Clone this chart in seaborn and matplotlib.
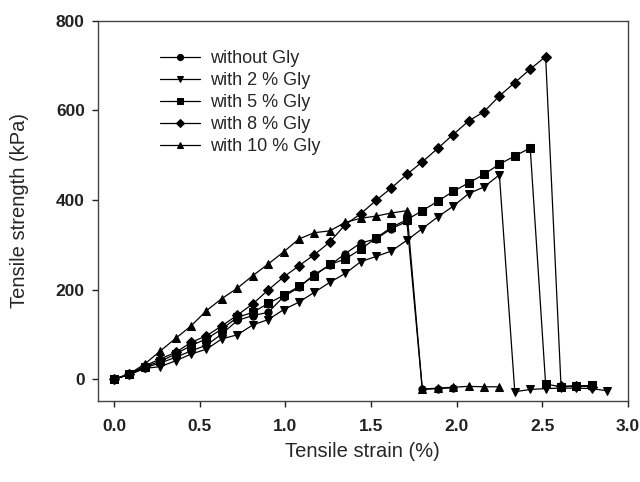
import pandas as pd
import numpy as np
import matplotlib
matplotlib.use('Agg')
import matplotlib.pyplot as plt
import seaborn as sns

# strain steps (%)
strain = [0.00, 0.09, 0.18, 0.27, 0.36, 0.45, 0.54, 0.63, 0.72, 0.81,
          0.90, 0.99, 1.08, 1.17, 1.26, 1.35, 1.44, 1.53, 1.62, 1.71,
          1.80, 1.89, 1.98, 2.07, 2.16, 2.25, 2.34, 2.43, 2.52, 2.61,
          2.70, 2.79, 2.88]

# tensile strength (kPa)
gly_0 = [0, 11, 26, 36, 49, 63, 76, 101, 131, 142,
         149, 184, 205, 234, 254, 280, 304, 313, 336, 352,
         -23, -21, -19]
gly_2 = [0, 10, 24, 28, 41, 56, 67, 90, 99, 121,
         133, 155, 172, 194, 216, 236, 262, 274, 286, 310,
         336, 362, 386, 414, 429, 456, -28, -23, -21, -20,
         -20, -21, -26]
gly_5 = [0, 11, 28, 40, 56, 75, 90, 112, 138, 149,
         169, 187, 207, 231, 256, 268, 290, 315, 339, 356,
         376, 397, 419, 438, 457, 480, 498, 516, -11, -17,
         -15, -14]
gly_8 = [0, 11, 30, 45, 60, 82, 97, 119, 143, 168,
         199, 228, 253, 278, 306, 345, 369, 399, 427, 457,
         485, 515, 546, 576, 597, 632, 662, 692, 720, -16,
         -15, -17]
gly_10 = [0, 12, 34, 63, 91, 119, 153, 180, 203, 231,
          257, 284, 313, 327, 331, 350, 359, 364, 371, 376,
          -22, -20, -18, -16, -17, -17]

labels = ['without Gly', 'with 2 % Gly', 'with 5 % Gly',
          'with 8 % Gly', 'with 10 % Gly']
series = [gly_0, gly_2, gly_5, gly_8, gly_10]

rows = []
for lab, vals in zip(labels, series):
    for x, y in zip(strain, vals):
        rows.append({'strain': x, 'strength': y, 'sample': lab})
df = pd.DataFrame(rows)

sns.set_style('ticks')
plt.rcParams['font.family'] = ['Liberation Sans', 'DejaVu Sans']

fig = plt.figure(figsize=(6.4, 4.82), dpi=100)
ax = fig.add_axes([0.1527, 0.1687, 0.8283, 0.7883])

marker_map = {'without Gly': 'o', 'with 2 % Gly': 'v', 'with 5 % Gly': 's',
              'with 8 % Gly': 'D', 'with 10 % Gly': '^'}
sns.lineplot(data=df, x='strain', y='strength', style='sample',
             style_order=labels, markers=marker_map, dashes=False,
             color='black', linewidth=0.9, markersize=5.2,
             markeredgecolor='black', sort=False, estimator=None, ax=ax)

ax.set_xlim(-0.095, 3.0)
ax.set_ylim(-48, 800)
ax.set_xticks([0.0, 0.5, 1.0, 1.5, 2.0, 2.5, 3.0])
ax.set_xticklabels(['0.0', '0.5', '1.0', '1.5', '2.0', '2.5', '3.0'])
ax.set_yticks([0, 200, 400, 600, 800])
ax.tick_params(direction='out', length=4.3, width=1, labelsize=12.5,
               colors='#222222')
ax.tick_params(axis='x', pad=9)
ax.tick_params(axis='y', pad=5)
for t in ax.get_xticklabels() + ax.get_yticklabels():
    t.set_fontweight('bold')
for sp in ax.spines.values():
    sp.set_visible(True)
    sp.set_color('#444444')
    sp.set_linewidth(1)

ax.set_xlabel('Tensile strain (%)', fontsize=14.5, va='center')
ax.set_ylabel('Tensile strength (kPa)', fontsize=14.5, va='center')
ax.xaxis.set_label_coords(0.5, -0.135)
ax.yaxis.set_label_coords(-0.147, 0.5)

leg = ax.legend(loc='upper left', bbox_to_anchor=(0.1175, 0.922), frameon=False,
                fontsize=13, handlelength=2.2, labelspacing=0.27,
                handletextpad=0.55, borderpad=0, borderaxespad=0,
                markerscale=0.85)

fig.savefig('out.png', dpi=100)
